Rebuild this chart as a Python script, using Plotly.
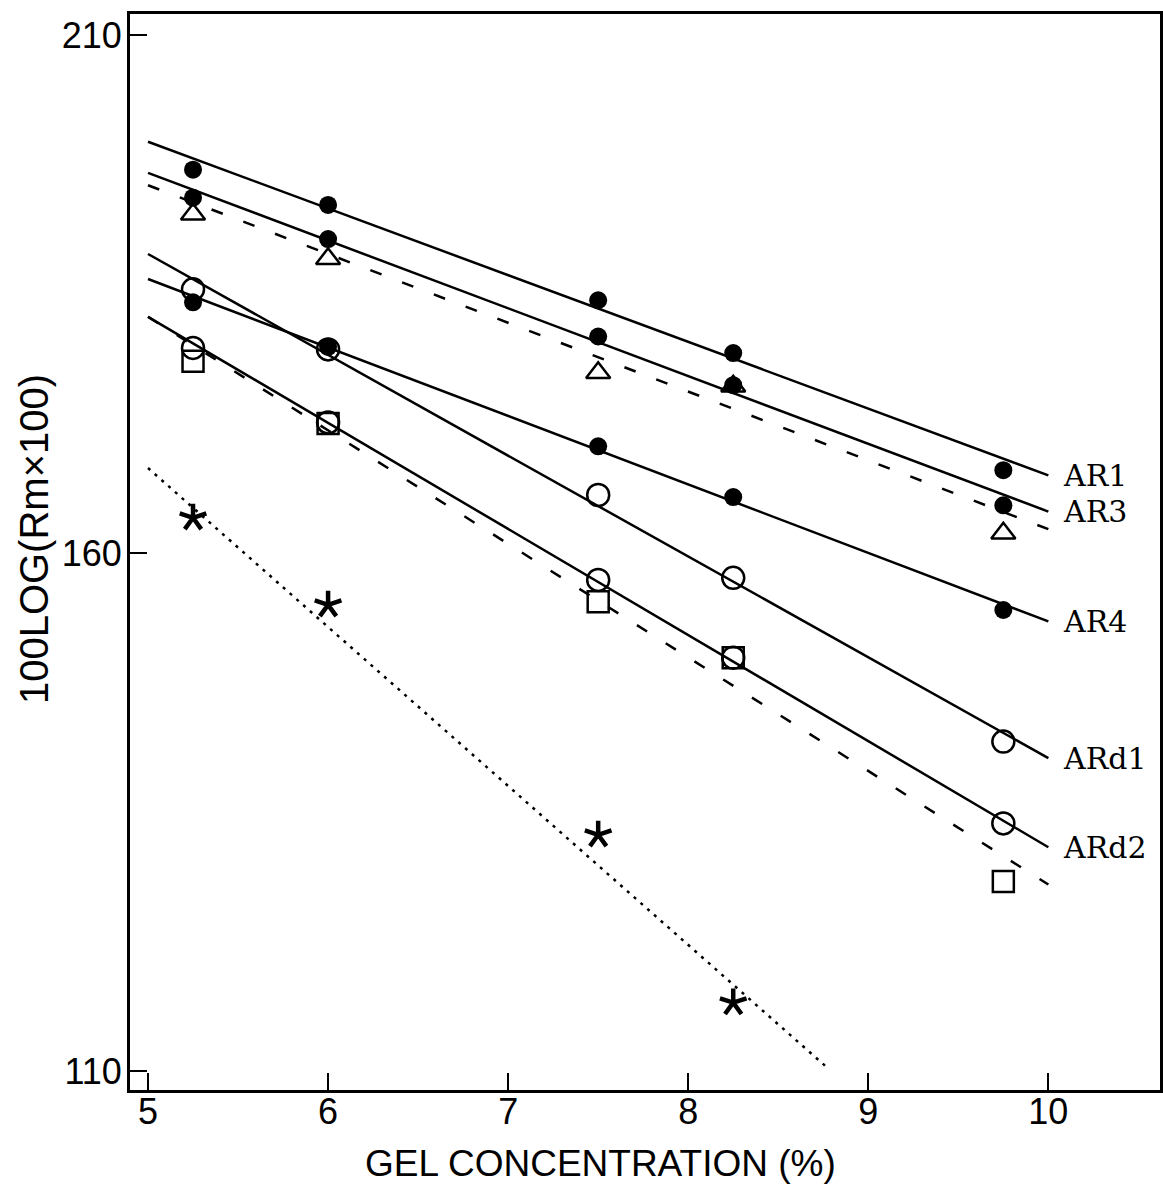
import plotly.graph_objects as go
import math

# ---------------- data ----------------
gel = [5.25, 6.0, 7.5, 8.25, 9.75]
ar1 = [197.0, 193.6, 184.4, 179.3, 168.0]
ar3 = [194.3, 190.3, 180.9, 176.2, 164.6]
ar3_tri = [192.7, 188.4, 177.4, 176.1, 161.9]
ar4 = [184.2, 179.9, 170.3, 165.4, 154.5]
ard1 = [185.45, 179.65, 165.6, 157.6, 141.8]
ard2 = [179.8, 172.6, 157.4, 149.9, 133.9]
ard2_sq = [178.5, 172.5, 155.3, 149.9, 128.3]
star_gel = [5.25, 6.0, 7.5, 8.25]
star = [163.4, 155.0, 132.8, 116.6]

# regression lines (end points)
fit_gel = [5.0, 10.0]
ar1_fit = [199.7, 167.5]
ar3_fit = [196.7, 164.0]
ar3_tri_fit = [195.5, 162.3]
ar4_fit = [186.45, 153.4]
ard1_fit = [188.86, 140.2]
ard2_fit = [182.8, 131.6]
ard2_sq_fit = [182.8, 128.0]
star_fit_gel = [5.0, 8.78]
star_fit = [168.2, 110.2]

labels = ["AR1", "AR3", "AR4", "ARd1", "ARd2"]
label_fits = [ar1_fit, ar3_fit, ar4_fit, ard1_fit, ard2_fit]

x_ticks = [5, 6, 7, 8, 9, 10]
y_ticks = [110, 160, 210]
x_title = "GEL CONCENTRATION (%)"
y_title = "100LOG(Rm×100)"

# ---------------- figure ----------------
fig = go.Figure()
BLACK = "black"
SANS = "Liberation Sans, Arial, sans-serif"

def line(xs, ys, dash="solid", width=2.5):
    fig.add_trace(go.Scatter(x=xs, y=ys, mode="lines",
                             line=dict(color=BLACK, width=width, dash=dash),
                             hoverinfo="skip", showlegend=False))

for f in [ar1_fit, ar3_fit, ar4_fit, ard1_fit, ard2_fit]:
    line(fit_gel, f)
line(fit_gel, ar3_tri_fit, dash="12px,22px", width=2.5)
line(fit_gel, ard2_sq_fit, dash="12px,22px", width=2.5)
line(star_fit_gel, star_fit, dash="3px,6px", width=2.5)

def pts(xs, ys, symbol, size, filled):
    if filled:
        marker = dict(symbol=symbol, size=size, color=BLACK,
                      line=dict(color=BLACK, width=0))
    else:
        marker = dict(symbol=symbol, size=size, color=BLACK,
                      line=dict(color=BLACK, width=2.5))
    fig.add_trace(go.Scatter(x=xs, y=ys, mode="markers", marker=marker,
                             hoverinfo="skip", showlegend=False))

pts(gel, ar3_tri, "triangle-up-open", 21, False)
pts(gel, ard2_sq, "square-open", 21, False)
pts(gel, ard1, "circle-open", 22, False)
pts(gel, ard2, "circle-open", 22, False)
pts(gel, ar1, "circle", 18, True)
pts(gel, ar3, "circle", 18, True)
pts(gel, ar4, "circle", 18, True)

# five-armed asterisk markers drawn as pixel-sized shapes anchored at the data
arm = 14
star_path = ""
for k in range(5):
    a = math.radians(90 + 72 * k)
    star_path += "M0,0L%.2f,%.2f" % (arm * math.cos(a), arm * math.sin(a))
for sx, sy in zip(star_gel, star):
    fig.add_shape(type="path", xref="x", yref="y",
                  xsizemode="pixel", ysizemode="pixel",
                  xanchor=sx, yanchor=sy, path=star_path,
                  line=dict(color=BLACK, width=4.5))

# series labels at the right end of each line
for lab, f in zip(labels, label_fits):
    fig.add_annotation(x=fit_gel[-1], y=f[-1], text=lab, showarrow=False,
                       xanchor="left", yanchor="middle", xshift=13,
                       font=dict(family="DejaVu Serif", size=30, color=BLACK))

# axis titles
fig.add_annotation(xref="paper", yref="paper", x=0.457, y=0, yshift=-73,
                   text=x_title, showarrow=False, xanchor="center", yanchor="middle",
                   font=dict(family=SANS, size=37, color=BLACK))
fig.add_annotation(xref="paper", yref="paper", x=0, xshift=-96, y=0.512,
                   text=y_title, showarrow=False, textangle=-90,
                   xanchor="center", yanchor="middle",
                   font=dict(family=SANS, size=40, color=BLACK))

tick_font = dict(family=SANS, size=36, color=BLACK)

fig.update_layout(
    width=1163, height=1186,
    margin=dict(l=130, r=3, t=14, b=96),
    paper_bgcolor="white", plot_bgcolor="white",
    showlegend=False,
    xaxis=dict(range=[4.9, 10.62], tickvals=x_ticks, ticktext=[str(v) for v in x_ticks],
               ticks="inside", ticklen=17, tickwidth=2, tickcolor=BLACK,
               showline=True, linecolor=BLACK, linewidth=3, mirror=True,
               showgrid=False, zeroline=False, tickfont=tick_font,
               ticklabelstandoff=-12, automargin=False),
    yaxis=dict(range=[108.165, 212.03], tickvals=y_ticks, ticktext=[str(v) for v in y_ticks],
               ticks="inside", ticklen=17, tickwidth=2, tickcolor=BLACK,
               showline=True, linecolor=BLACK, linewidth=3, mirror=True,
               showgrid=False, zeroline=False, tickfont=tick_font,
               ticklabelstandoff=-2, automargin=False),
)

# remove the default page margin so the figure fills the window exactly
fig.write_html("out.html",
               config={"displayModeBar": False},
               post_script="document.body.style.margin='0';"
                           "document.body.style.overflow='hidden';")
